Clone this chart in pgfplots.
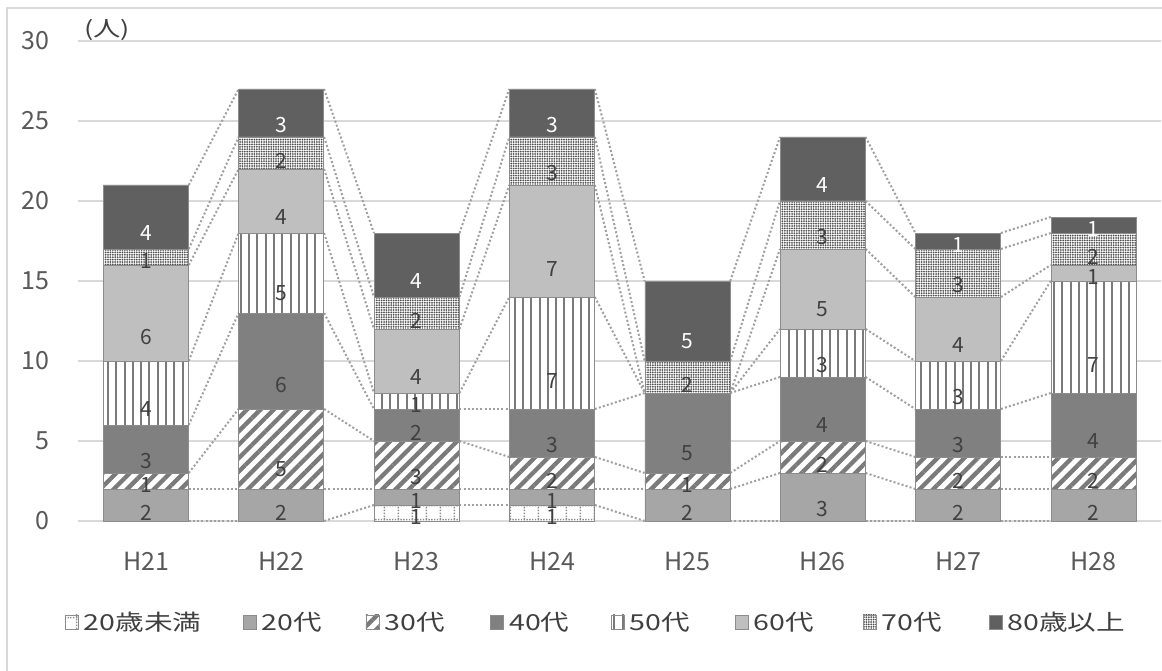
\documentclass[border=0pt]{standalone}
\usepackage{fontspec}
\setmainfont{Noto Sans CJK JP}
\newfontfamily\jpwide[FakeStretch=1.3]{Noto Sans CJK JP}
\usepackage{pgfplots}
\usepackage{pgfplotstable}
\pgfplotsset{compat=1.18}
\usetikzlibrary{patterns,patterns.meta}

\definecolor{gridgray}{HTML}{D9D9D9}
\definecolor{ticktext}{HTML}{595959}
\definecolor{labeltext}{HTML}{404040}
\definecolor{c20}{HTML}{A6A6A6}
\definecolor{c40}{HTML}{808080}
\definecolor{c60}{HTML}{BFBFBF}
\definecolor{c80}{HTML}{606060}
\definecolor{hatch}{HTML}{7A7A7A}
\definecolor{dotink}{HTML}{505050}
\definecolor{edge}{HTML}{8C8C8C}
\definecolor{sline}{HTML}{A0A0A0}

% white tile with a dotted horizontal and a dotted vertical line
\tikzdeclarepattern{
  name=agegrid,
  type=uncolored,
  bounding box={(0pt,0pt) and (14pt,14pt)},
  tile size={(14pt,14pt)},
  code={
    \foreach \k in {0,3,6,9,12}{
      \pgfpathrectangle{\pgfpoint{\k pt}{11pt}}{\pgfpoint{1.5pt}{1.5pt}}
      \pgfpathrectangle{\pgfpoint{6pt}{\k pt}}{\pgfpoint{1.5pt}{1.5pt}}
      \pgfusepath{fill}
    }
  }
}

% people per age group, H21 ... H28
\pgfplotstableread{
x s1 s2 s3 s4 s5 s6 s7 s8
0 0 2 1 3 4 6 1 4
1 0 2 5 6 5 4 2 3
2 1 1 3 2 1 4 2 4
3 1 1 2 3 7 7 3 3
4 0 2 1 5 0 0 2 5
5 0 3 2 4 3 5 3 4
6 0 2 2 3 3 4 3 1
7 0 2 2 4 7 1 2 1
}\ages

% running totals (segment tops) and their change to the next year
\pgfplotstablecreatecol[create col/expr={\thisrow{s1}}]{c1}\ages
\pgfplotstablecreatecol[create col/expr={\thisrow{c1}+\thisrow{s2}}]{c2}\ages
\pgfplotstablecreatecol[create col/expr={\thisrow{c2}+\thisrow{s3}}]{c3}\ages
\pgfplotstablecreatecol[create col/expr={\thisrow{c3}+\thisrow{s4}}]{c4}\ages
\pgfplotstablecreatecol[create col/expr={\thisrow{c4}+\thisrow{s5}}]{c5}\ages
\pgfplotstablecreatecol[create col/expr={\thisrow{c5}+\thisrow{s6}}]{c6}\ages
\pgfplotstablecreatecol[create col/expr={\thisrow{c6}+\thisrow{s7}}]{c7}\ages
\pgfplotstablecreatecol[create col/expr={\thisrow{c7}+\thisrow{s8}}]{c8}\ages
\pgfplotstablecreatecol[create col/expr={\nextrow{c1}-\thisrow{c1}}]{d1}\ages
\pgfplotstablecreatecol[create col/expr={\nextrow{c2}-\thisrow{c2}}]{d2}\ages
\pgfplotstablecreatecol[create col/expr={\nextrow{c3}-\thisrow{c3}}]{d3}\ages
\pgfplotstablecreatecol[create col/expr={\nextrow{c4}-\thisrow{c4}}]{d4}\ages
\pgfplotstablecreatecol[create col/expr={\nextrow{c5}-\thisrow{c5}}]{d5}\ages
\pgfplotstablecreatecol[create col/expr={\nextrow{c6}-\thisrow{c6}}]{d6}\ages
\pgfplotstablecreatecol[create col/expr={\nextrow{c7}-\thisrow{c7}}]{d7}\ages
\pgfplotstablecreatecol[create col/expr={\nextrow{c8}-\thisrow{c8}}]{d8}\ages

\pgfplotsset{
  panel/.style={
    width=1083pt, height=480pt, scale only axis,
    xmin=-0.5, xmax=7.5, ymin=0, ymax=30,
    at={(78.3pt,149pt)}, anchor=south west,
    /pgf/number format/assume math mode=true,
  },
  bar/.style={draw=edge, line width=0.8pt},
  seg/.style 2 args={
    point meta=explicit,
    visualization depends on={\thisrow{#1}\as\segval},
    nodes near coords={\pgfmathfloatifflags{\pgfplotspointmeta}{0}{}{\pgfmathprintnumber{\pgfplotspointmeta}}},
    every node near coord/.append style={
      anchor=center, yshift={-4pt*\segval},
      font=\fontsize{21}{24}\selectfont, text=#2},
  },
  seriesline/.style={
    draw=sline, line width=2pt, dash pattern=on 2pt off 2.2pt, mark=none,
  },
}

\begin{document}
\begin{tikzpicture}
\path[use as bounding box] (0pt,0pt) rectangle (1162pt,670pt);
\fill[white] (0pt,0pt) rectangle (1162pt,670pt);
\draw[gridgray, line width=1.5pt] (7pt,-2pt) -- (7pt,662pt) -- (1170pt,662pt);

% grid, ticks and the dotted series lines between neighbouring bars
\begin{axis}[panel,
  axis line style={draw=none}, major tick length=0pt,
  ytick={0,5,...,30},
  xtick={0,...,7},
  xticklabels={H21,H22,H23,H24,H25,H26,H27,H28},
  ymajorgrids, grid style={gridgray, line width=1.2pt},
  tick label style={font=\fontsize{25}{30}\selectfont, text=ticktext},
  yticklabel style={anchor=east, inner sep=0pt, xshift=-29pt},
  xticklabel style={anchor=base, inner sep=0pt, yshift=-49pt},
]
\pgfplotsinvokeforeach{1,...,8}{
  \addplot[seriesline, quiver={u=0.368, v=\thisrow{d#1}},
    skip coords between index={7}{8}]
    table[x expr=\coordindex+0.316, y=c#1] {\ages};
}
\end{axis}

% stacked bars with value labels and legend
\begin{axis}[panel, hide axis, clip=false,
  ybar stacked, bar width=85pt,
  legend columns=8,
  legend cell align=left,
  legend image code/.code={\draw[#1] (0pt,-7pt) rectangle (13pt,7pt); \path (18pt,0pt);},
  legend style={at={(-0.01228,-0.2104)}, anchor=west, draw=none, fill=none,
    inner sep=0pt, outer sep=0pt, column sep=0pt,
    font=\jpwide\fontsize{22}{26}\selectfont, text=labeltext,
    nodes={inner sep=0pt},
    /tikz/every even column/.append style={column sep=35pt}},
]
\addplot[bar, fill=white, postaction={pattern=agegrid, pattern color=edge}, seg={s1}{labeltext}]
  table[x=x, y=s1, meta=s1] {\ages};
\addlegendentry{\makebox[124pt][l]{20歳未満}}
\addplot[bar, fill=c20, seg={s2}{labeltext}]
  table[x=x, y=s2, meta=s2] {\ages};
\addlegendentry{\makebox[69pt][l]{20代}}
\addplot[bar, fill=white, postaction={pattern={Lines[angle=45, distance=9.5pt, line width=4.3pt]}, pattern color=hatch}, seg={s3}{labeltext}]
  table[x=x, y=s3, meta=s3] {\ages};
\addlegendentry{\makebox[71pt][l]{30代}}
\addplot[bar, fill=c40, seg={s4}{labeltext}]
  table[x=x, y=s4, meta=s4] {\ages};
\addlegendentry{\makebox[67pt][l]{40代}}
\addplot[bar, fill=white, postaction={pattern={Lines[angle=90, distance=8.3pt, line width=2pt]}, pattern color=hatch}, seg={s5}{labeltext}]
  table[x=x, y=s5, meta=s5] {\ages};
\addlegendentry{\makebox[70pt][l]{50代}}
\addplot[bar, fill=c60, seg={s6}{labeltext}]
  table[x=x, y=s6, meta=s6] {\ages};
\addlegendentry{\makebox[74pt][l]{60代}}
\addplot[bar, fill=white, postaction={pattern={Dots[distance=2.4pt, radius=1pt]}, pattern color=dotink}, seg={s7}{labeltext}]
  table[x=x, y=s7, meta=s7] {\ages};
\addlegendentry{\makebox[72pt][l]{70代}}
\addplot[bar, fill=c80, seg={s8}{white}]
  table[x=x, y=s8, meta=s8] {\ages};
\addlegendentry{\makebox[131pt][l]{80歳以上}}
\end{axis}

\node[font=\jpwide\fontsize{21}{24}\selectfont, text=labeltext] at (107pt,640pt) {(人)};
\end{tikzpicture}
\end{document}
